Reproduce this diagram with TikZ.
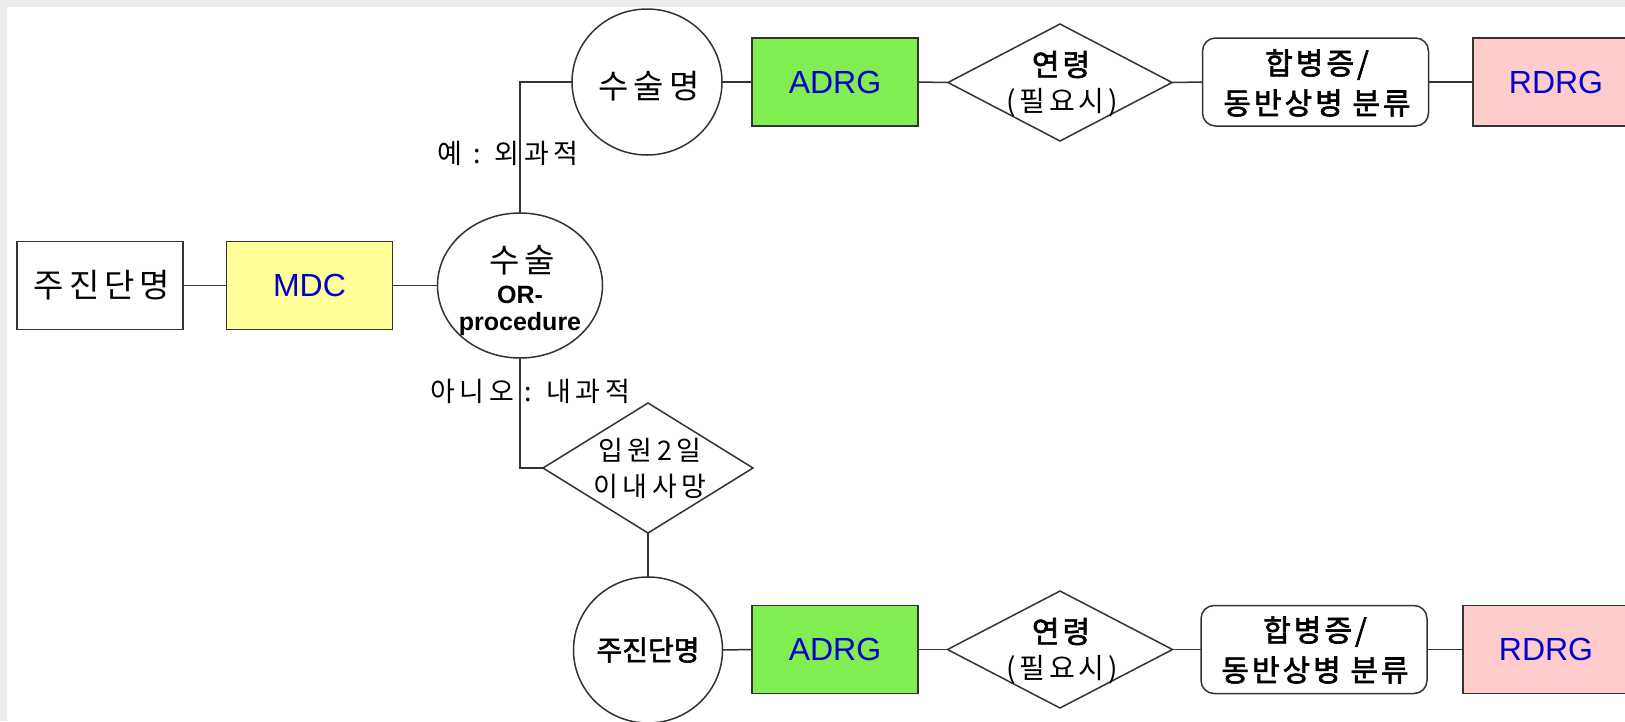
\documentclass[tikz,border=0pt]{standalone}
\usepackage{fontspec}
\setmainfont{Noto Sans CJK KR}[AutoFakeBold=2]
\newfontfamily\lat{Liberation Sans}
\usetikzlibrary{shapes.geometric}
\definecolor{bgband}{RGB}{236,236,236}
\definecolor{mdcy}{RGB}{255,255,153}
\definecolor{adrgg}{RGB}{128,238,80}
\definecolor{rdrgp}{RGB}{255,204,204}
\definecolor{codeblue}{RGB}{0,0,204}
\definecolor{edgecol}{RGB}{51,51,51}
\tikzset{
  every node/.style={inner sep=0pt, outer sep=0pt},
  base/.style={draw=edgecol, line width=1.5pt},
  rectbox/.style={base, rectangle, minimum width=166pt, minimum height=88pt},
  roundbox/.style={base, rectangle, rounded corners=13pt, minimum width=226pt, minimum height=88pt, fill=white},
  oval/.style={base, ellipse, fill=white},
  dia/.style={base, diamond, fill=white},
  link/.style={draw=edgecol, line width=1.5pt},
  kbig/.style={font=\fontsize{33}{38}\selectfont\addfontfeature{LetterSpace=15}},
  kmidb/.style={font=\fontsize{30}{34}\selectfont\bfseries\addfontfeature{LetterSpace=10}},
  kdx/.style={font=\fontsize{28}{34}\selectfont\bfseries},
  ksmall/.style={font=\fontsize{27}{32}\selectfont\addfontfeature{LetterSpace=17}},
  kparen/.style={font=\fontsize{28}{32}\selectfont\addfontfeature{LetterSpace=14}},
  code/.style={font=\lat\fontsize{32}{36}\selectfont, text=codeblue},
  orlat/.style={font=\lat\fontsize{25}{28}\selectfont\bfseries}
}
\begin{document}
\begin{tikzpicture}[x=1pt, y=-1pt]
\useasboundingbox (0,0) rectangle (1625,721);
\begin{scope}
\clip (0,0) rectangle (1625,721);
\fill[white] (0,0) rectangle (1625,721);
\fill[bgband] (0,0) rectangle (1625,7);
\fill[bgband] (0,0) rectangle (7,721);

% left part
\node[rectbox, fill=white] (dx1) at (100,285.5) {};
\node[kbig] (dx1txt) at (102,285.5) {주진단명};
\node[rectbox, fill=mdcy, code] (mdc) at (309.5,285.5) {MDC};
\node[oval, minimum width=165pt, minimum height=145pt] (or) at (520,285.5) {};
\node[kbig] (ortxt1) at (522,260) {수술};
\node[orlat] (ortxt2) at (520,295) {OR-};
\node[orlat] (ortxt3) at (520,324) {procedure};

% top row
\node[oval, minimum width=150pt, minimum height=146pt] (op) at (647,82) {};
\node[kbig] (optxt) at (649,86) {수술명};
\node[rectbox, fill=adrgg, code] (adrg1) at (835,82) {ADRG};
\node[dia, minimum width=224pt, minimum height=117pt] (age1) at (1060,82.5) {};
\node[kmidb] (age1a) at (1061,64.5) {연령};
\node[kparen] (age1b) at (1062,103) {(필요시)};
\node[roundbox] (comp1) at (1315.5,82) {};
\node[kmidb] (comp1a) at (1317,64.5) {합병증/};
\node[kmidb] (comp1b) at (1317,103) {동반상병 분류};
\node[rectbox, fill=rdrgp, code] (rdrg1) at (1556,82) {RDRG};

% lower branch
\node[dia, minimum width=210pt, minimum height=130pt] (die) at (648,468) {};
\node[ksmall] (die1) at (650,450) {입원2일};
\node[ksmall] (die2) at (650,486) {이내사망};
\node[oval, minimum width=149pt, minimum height=146pt] (dx2) at (648,650) {};
\node[kdx] (dx2txt) at (648,650) {주진단명};
\node[rectbox, fill=adrgg, code] (adrg2) at (835,649.5) {ADRG};
\node[dia, minimum width=225pt, minimum height=117pt] (age2) at (1060,649.5) {};
\node[kmidb] (age2a) at (1061,631.5) {연령};
\node[kparen] (age2b) at (1062,670) {(필요시)};
\node[roundbox] (comp2) at (1314,649.5) {};
\node[kmidb] (comp2a) at (1315,631.5) {합병증/};
\node[kmidb] (comp2b) at (1315,670) {동반상병 분류};
\node[rectbox, fill=rdrgp, code] (rdrg2) at (1546,649.5) {RDRG};

% connectors
\draw[link] (dx1.east) -- (mdc.west);
\draw[link] (mdc.east) -- (or.west);
\draw[link] (or.north) -- (or.north |- op.west) -- (op.west);
\draw[link] (op.east) -- (adrg1.west);
\draw[link] (adrg1.east) -- (age1.west);
\draw[link] (age1.east) -- (comp1.west);
\draw[link] (comp1.east) -- (rdrg1.west);
\draw[link] (or.south) -- (or.south |- die.west) -- (die.west);
\draw[link] (die.south) -- (dx2.north);
\draw[link] (dx2.east) -- (adrg2.west);
\draw[link] (adrg2.east) -- (age2.west);
\draw[link] (age2.east) -- (comp2.west);
\draw[link] (comp2.east) -- (rdrg2.west);

% branch labels
\node[ksmall] (yes) at (508,153) {예 : 외과적};
\node[ksmall] (no) at (530,391) {아니오 : 내과적};
\end{scope}
\end{tikzpicture}
\end{document}
